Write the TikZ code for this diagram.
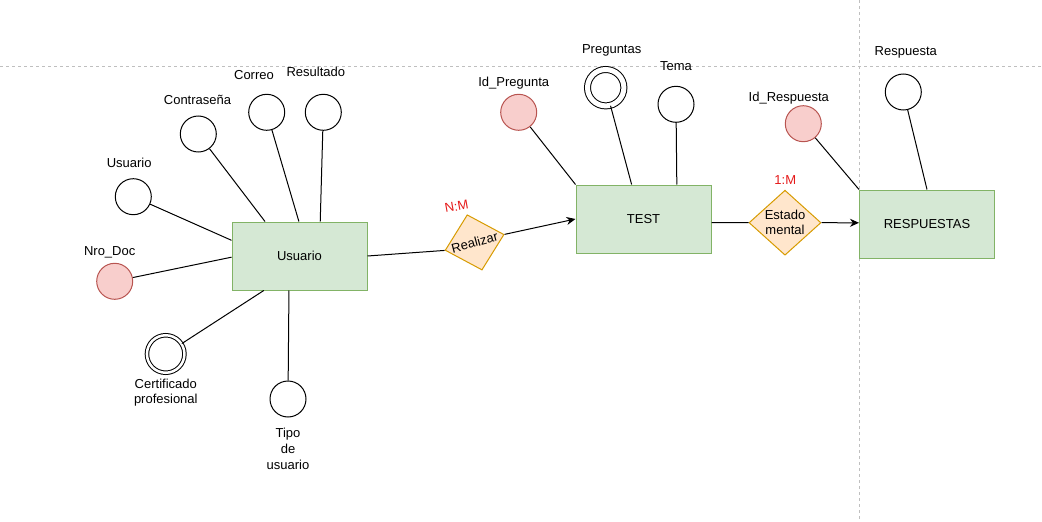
\documentclass[tikz,border=0pt]{standalone}
\usepackage{fontspec}
\setmainfont{Liberation Sans}
\usetikzlibrary{shapes.geometric,arrows.meta}
\definecolor{entfill}{HTML}{D5E8D4}
\definecolor{entline}{HTML}{82B366}
\definecolor{keyfill}{HTML}{F8CECC}
\definecolor{keyline}{HTML}{B85450}
\definecolor{relfill}{HTML}{FFE6CC}
\definecolor{relline}{HTML}{D79B00}
\definecolor{cardred}{HTML}{E51919}

\begin{document}
\begin{tikzpicture}[x=1pt,y=-1pt,font=\fontsize{13}{15}\selectfont,
  ent/.style={draw=entline,fill=entfill,line width=1pt,minimum width=135pt,minimum height=68pt,inner sep=0pt},
  attr/.style={circle,draw,line width=1pt,minimum size=36pt,inner sep=0pt},
  keyattr/.style={attr,draw=keyline,fill=keyfill},
  multi/.style={attr,double,double distance=#1},
  rel/.style={diamond,draw=relline,fill=relfill,line width=1pt,inner sep=0pt,align=center},
  card/.style={text=cardred,inner sep=0pt},
  lnk/.style={line width=1pt},
  guide/.style={gray!50,dash pattern=on 3pt off 3pt,line width=1pt}]
\useasboundingbox (0,0) rectangle (1042,522);
% Guides
\draw[guide] (0,66) -- (1042,66);
\draw[guide] (859,0) -- (859,522);
% Entities
\node[ent] (usr) at (299.5,256) {Usuario};
\node[ent] (test) at (643.5,219) {TEST};
\node[ent] (resp) at (927,224) {RESPUESTAS};
% Relations
\node[rel,rotate=15,minimum width=61pt,minimum height=57pt] (realizar) at (474.6,242.4) {Realizar};
\node[rel,minimum width=72pt,minimum height=65pt,inner sep=-7pt] (estado) at (785,222.7) {Estado\\mental};
\node[card,rotate=10] (nm) at (456.5,206.5) {N:M};
\node[card] (um) at (785.3,180) {1:M};
% Attributes Usuario
\node[attr] (ausu) at (133.3,196.7) {};
\node[attr] (acon) at (198.3,134) {};
\node[attr] (acor) at (266.7,112.3) {};
\node[attr] (ares) at (323.3,112.3) {};
\node[keyattr] (ando) at (114.7,281.3) {};
\node[multi=2.5pt,minimum size=37.5pt] (acer) at (165.7,354) {};
\node[attr] (atip) at (288,399) {};
\node (lusu) at (129.2,163.3) {Usuario};
\node (lcon) at (197.5,100) {Contraseña};
\node (lcor) at (254,75) {Correo};
\node (lres) at (315.8,72.3) {Resultado};
\node (lndo) at (109.7,252.7) {Nro\_Doc};
\node[align=center] (lcer) at (165.8,393) {Certificado\\profesional};
\node[align=center,font=\fontsize{13}{16}\selectfont] (ltip) at (288,449) {Tipo\\de\\usuario};
% Attributes TEST
\node[keyattr] (apid) at (518.7,112.3) {};
\node[multi=5pt,minimum size=36.4pt] (apre) at (605.7,87.7) {};
\node[attr] (atem) at (676,104.3) {};
\node (lpid) at (513.7,83.3) {Id\_Pregunta};
\node (lpre) at (611.7,50) {Preguntas};
\node (ltem) at (676,66) {Tema};
% Attributes RESPUESTAS
\node[keyattr] (arid) at (803.3,123.7) {};
\node[attr] (arsp) at (903.3,92) {};
\node (lrid) at (788.8,97.7) {Id\_Respuesta};
\node (lrsp) at (905.8,52.3) {Respuesta};
% Attribute links
\draw[lnk] (ausu) -- (usr.167);
\draw[lnk] (acon) -- (usr.135);
\draw[lnk] (acor) -- (usr.91);
\draw[lnk] (ares) -- (usr.59);
\draw[lnk] (ando) -- (usr.181);
\draw[lnk] (acer) -- (usr.224);
\draw[lnk] (atip) -- (usr.253);
\draw[lnk] (apid) -- (test.north west);
\draw[lnk] (apre) -- (test.109);
\draw[lnk] (atem) -- (test.46);
\draw[lnk] (arid) -- (resp.north west);
\draw[lnk] (arsp) -- (resp.north);
% Relation links
\draw[lnk] (usr.east) -- (realizar.west);
\draw[lnk,-{Stealth[length=9pt,width=8pt]}] (realizar.east) -- (test.west);
\draw[lnk] (test.-3) -- (estado.west);
\draw[lnk,-{Stealth[length=9pt,width=8pt]}] (estado.east) -- (resp.179);
\end{tikzpicture}
\end{document}
